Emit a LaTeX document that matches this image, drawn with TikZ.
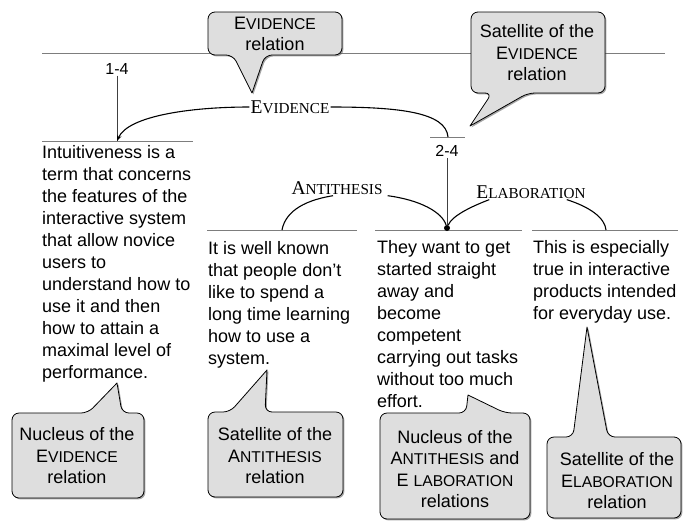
\documentclass[tikz,border=0pt]{standalone}
\usepackage{fontspec}
\setmainfont{Liberation Sans}
\newfontfamily\relfont{Liberation Serif}
\usepackage{graphicx}
\usetikzlibrary{arrows.meta,shadows}

\definecolor{bubblegray}{RGB}{222,222,222}
\definecolor{rulegray}{RGB}{125,125,125}

% fake small caps, sans (bubbles) and serif (relation names)
\newcommand{\fsc}[2]{#1\scalebox{0.87}{#2}}
\newcommand{\rsc}[2]{#1\scalebox{0.78}{#2}}

\begin{document}
\begin{tikzpicture}[x=1pt, y=-1pt,
  spantext/.style={anchor=north west, inner sep=0pt, align=left,
    font=\fontsize{18}{22}\selectfont},
  bubbletext/.style={inner sep=0pt, align=center,
    font=\fontsize{18}{21.5}\selectfont},
  bubble/.style={fill=bubblegray, draw=black, line width=0.8pt,
    rounded corners=7pt, line cap=round,
    drop shadow={shadow xshift=1.4pt, shadow yshift=-1.4pt, fill=black!70}},
  relbar/.style={draw=rulegray, line width=0.7pt},
  spanline/.style={draw=black!75, line width=0.7pt},
  relarc/.style={draw=black, line width=1.1pt},
  spanlab/.style={inner sep=1pt, font=\fontsize{16}{18}\selectfont},
  rellab/.style={inner sep=1pt, font=\relfont\fontsize{19.5}{22}\selectfont}]

\useasboundingbox (0,0) rectangle (684,522);
\fill[white] (0,0) rectangle (684,522);

% rules
\draw[relbar] (42,53) -- (665,53);
\draw[relbar] (42,141) -- (193,141);
\draw[relbar] (430,137) -- (465,137);
\draw[relbar] (207,230) -- (357,230);
\draw[relbar] (375,230) -- (522,230);
\draw[relbar] (532,230) -- (678,230);

% span labels and attachment points
\node[spanlab] (n14) at (117,69) {1-4};
\node[spanlab] (n24) at (447,151) {2-4};
\coordinate (t14) at (117,141);
\coordinate (t24) at (448,137);
\coordinate (tanti) at (282,230);
\coordinate (telab) at (606,230);
\node[circle, fill=black, inner sep=0pt, minimum size=6pt] (nuc) at (447,228) {};

\draw[spanline] (n14.south) -- (t14);
\draw[spanline] (n24.south) -- (nuc);

% relation names
\node[rellab] (ev) at (290,107) {\rsc{E}{VIDENCE}};
\node[rellab] (anti) at (337,188) {\rsc{A}{NTITHESIS}};
\node[rellab] (elab) at (531,192) {\rsc{E}{LABORATION}};

\draw[relarc, -{Stealth[length=6pt, width=4.5pt]}] (ev.west) .. controls (190,107) and (128,116) .. (t14);
\draw[relarc] (ev.east) .. controls (398,107) and (446,112) .. (t24);
\draw[relarc] ([xshift=-4pt]anti.south) .. controls (300,201) and (285,214) .. (tanti);
\draw[relarc] ([xshift=4pt]anti.south east) .. controls (420,200) and (442,212) .. (nuc);
\draw[relarc] ([xshift=14pt]elab.south west) .. controls (470,207) and (452,216) .. (nuc);
\draw[relarc] ([xshift=-20pt]elab.south east) .. controls (590,207) and (605,218) .. (telab);

% text segments
\node[spantext] (s1) at (42,145) {Intuitiveness is a\\term that concerns\\the features of the\\interactive system\\that allow novice\\users to\\understand how to\\use it and then\\how to attain a\\maximal level of\\performance.};
\node[spantext] (s2) at (208,241) {It is well known\\that people don't\\like to spend a\\long time learning\\how to use a\\system.};
\node[spantext] (s3) at (377,240) {They want to get\\started straight\\away and\\become\\competent\\carrying out tasks\\without too much\\effort.};
\node[spantext] (s4) at (533,240) {This is especially\\true in interactive\\products intended\\for everyday use.};

% callouts
\path[bubble] (252,93) -- (233,55) -- (208,55) -- (208,12) -- (342,12) -- (342,55) -- (265,55) -- (252,93);
\node[bubbletext] (c1) at (275,34) {\fsc{E}{VIDENCE}\\relation};

\path[bubble] (470,126) -- (528,93) -- (605,93) -- (605,12) -- (471,12) -- (471,93) -- (492,93) -- (470,126);
\node[bubbletext] (c2) at (537,53) {Satellite of the\\\fsc{E}{VIDENCE}\\relation};

\path[bubble] (117,383) -- (122,413) -- (144,413) -- (144,498) -- (12,498) -- (12,413) -- (88,413) -- (117,383);
\node[bubbletext] (c3) at (77,456) {Nucleus of the\\\fsc{E}{VIDENCE}\\relation};

\path[bubble] (267,370) -- (265,412) -- (343,412) -- (343,497) -- (208,497) -- (208,412) -- (230,412) -- (267,370);
\node[bubbletext] (c4) at (275,456) {Satellite of the\\\fsc{A}{NTITHESIS}\\relation};

\path[bubble] (468,395) -- (505,413) -- (530,413) -- (530,519) -- (380,519) -- (380,413) -- (466,413) -- (468,395);
\node[bubbletext] (c5) at (455,469) {Nucleus of the\\\fsc{A}{NTITHESIS} and\\E \scalebox{0.87}{LABORATION}\\relations};

\path[bubble] (587,327) -- (608,437) -- (681,437) -- (681,518) -- (547,518) -- (547,437) -- (573,437) -- (587,327);
\node[bubbletext] (c6) at (617,481) {Satellite of the\\\fsc{E}{LABORATION}\\relation};

\end{tikzpicture}
\end{document}
